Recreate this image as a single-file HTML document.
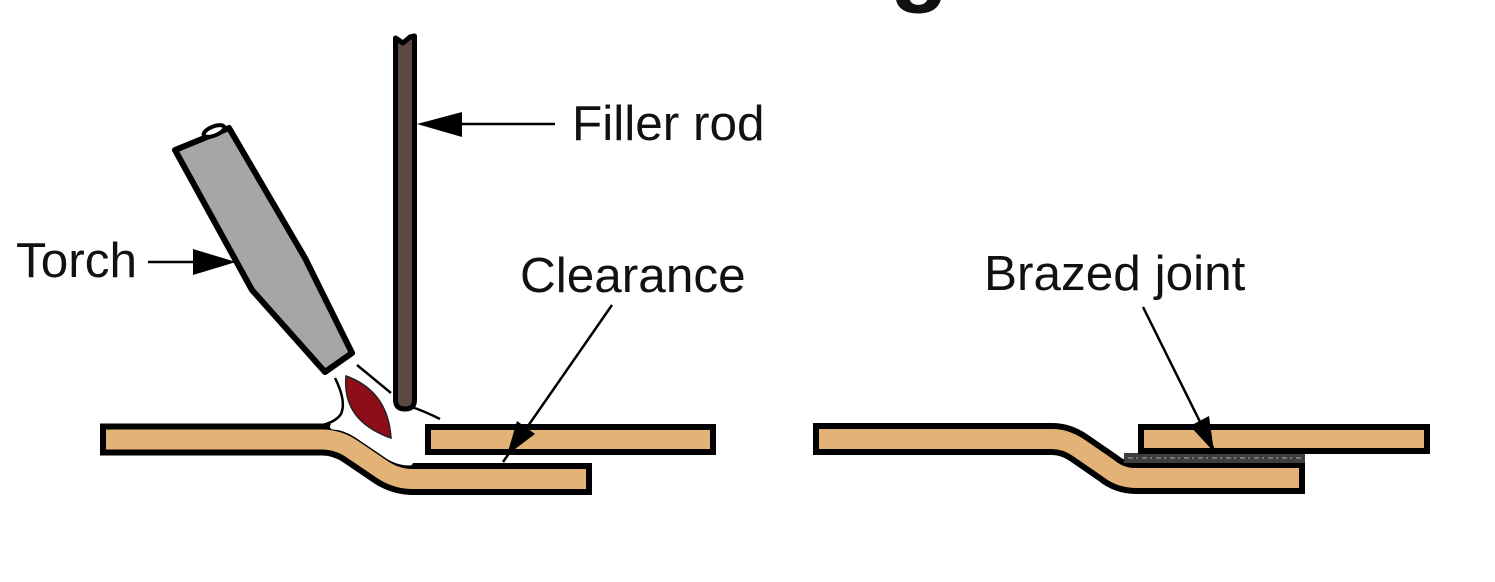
<!DOCTYPE html>
<html>
<head>
<meta charset="utf-8">
<style>
  html, body { margin:0; padding:0; background:#ffffff; }
  body { width:1495px; height:582px; overflow:hidden; }
  svg { display:block; }
  text { font-family: "Liberation Sans", Arial, sans-serif; fill:#111; }
</style>
</head>
<body>
<svg width="1495" height="582" viewBox="0 0 1495 582" xmlns="http://www.w3.org/2000/svg">
  <rect x="0" y="0" width="1495" height="582" fill="#ffffff"/>

  <!-- cut-off title descender -->
  <text x="890" y="-7" font-size="96" font-weight="bold">g</text>

  <!-- ============ LEFT DIAGRAM ============ -->
  <!-- lower-left bent plate -->
  <path d="M100 439.5 L322 439.5 Q338 439.5 352 449 L383 470 Q397 479 413 479 L592 479"
        fill="none" stroke="#000" stroke-width="32" stroke-linejoin="round"/>
  <path d="M106 439.5 L322 439.5 Q338 439.5 352 449 L383 470 Q397 479 413 479 L586 479"
        fill="none" stroke="#e2b276" stroke-width="20" stroke-linejoin="round"/>
  <!-- white glow on bend top edge -->
  <path d="M333 426.5 Q345 427 357 435 L388 456 Q398 462.5 410 462.5"
        fill="none" stroke="#ffffff" stroke-width="6" stroke-linecap="round"/>

  <!-- right plate (left diagram) -->
  <rect x="428" y="427" width="285" height="25" fill="#e2b276" stroke="#000" stroke-width="6"/>

  <!-- filler rod -->
  <path d="M395.5 38 L403 43 L410 37 L414.5 36 L414.5 400 Q414.5 409 405 409 Q395.5 409 395.5 400 Z"
        fill="#5c4a42" stroke="#000" stroke-width="5" stroke-linejoin="round"/>

  <!-- torch -->
  <polygon points="175,150 229,128 305,258 352,353 325,372 252,290"
           fill="#a6a6a6" stroke="#000" stroke-width="6" stroke-linejoin="round"/>
  <ellipse cx="214" cy="131" rx="11" ry="4.5" transform="rotate(-22 214 131)"
           fill="#ffffff" stroke="#000" stroke-width="4"/>

  <!-- flame -->
  <path d="M346 376 Q388 391 391 438 Q342 421 346 376 Z" fill="#8e0d18" stroke="#222" stroke-width="1.5"/>
  <path d="M335 378 C342 392 345 405 341 414 C337 420 329 424 318 426"
        fill="none" stroke="#000" stroke-width="2.5"/>
  <path d="M357 365 L391 393" fill="none" stroke="#000" stroke-width="2.5"/>
  <path d="M412 407 Q426 412 440 419" fill="none" stroke="#000" stroke-width="2.5"/>

  <!-- Filler rod label + arrow -->
  <line x1="450" y1="124" x2="555" y2="124" stroke="#000" stroke-width="2.5"/>
  <polygon points="417,124 462,112 462,137" fill="#000"/>
  <text x="572" y="140" font-size="49.5">Filler rod</text>

  <!-- Torch label + arrow -->
  <line x1="148" y1="262" x2="200" y2="262" stroke="#000" stroke-width="2.5"/>
  <polygon points="236,262 193,249 193,275" fill="#000"/>
  <text x="16" y="277" font-size="49.5">Torch</text>

  <!-- Clearance label + arrow -->
  <text x="520" y="292" font-size="49.5">Clearance</text>
  <line x1="612" y1="305" x2="503" y2="462" stroke="#000" stroke-width="2.5"/>
  <polygon points="507,455 535,434 517,421" fill="#000"/>

  <!-- ============ RIGHT DIAGRAM ============ -->
  <path d="M813 439 L1052 439 Q1066 439 1079 448 L1108 468 Q1120 478 1136 478 L1305 478"
        fill="none" stroke="#000" stroke-width="32" stroke-linejoin="round"/>
  <path d="M819 439 L1052 439 Q1066 439 1079 448 L1108 468 Q1120 478 1136 478 L1299 478"
        fill="none" stroke="#e2b276" stroke-width="20" stroke-linejoin="round"/>

  <!-- brazed filler strip -->
  <rect x="1124" y="453" width="181" height="10" fill="#3e3e3e"/>
  <line x1="1128" y1="458" x2="1302" y2="458" stroke="#8a8a8a" stroke-width="1.5" stroke-dasharray="5 3 2 4"/>

  <!-- upper-right plate -->
  <rect x="1141" y="427" width="286" height="24" fill="#e2b276" stroke="#000" stroke-width="6"/>

  <!-- Brazed joint label + arrow -->
  <text x="984" y="290" font-size="49.5">Brazed joint</text>
  <line x1="1143" y1="307" x2="1216" y2="454" stroke="#000" stroke-width="2.5"/>
  <polygon points="1214,452 1209,416 1190,426" fill="#000"/>
</svg>
</body>
</html>
